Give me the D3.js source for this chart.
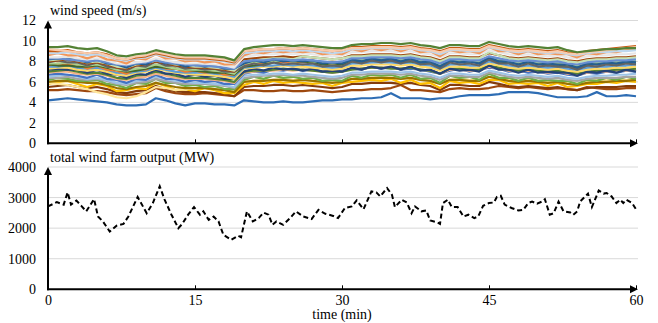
<!DOCTYPE html>
<html>
<head>
<meta charset="utf-8">
<script src="https://cdn.jsdelivr.net/npm/d3@7"></script>
<style>
  body { margin: 0; background: #fff; }
</style>
</head>
<body>
<div id="chart"></div>
<script>
const width = 658;
const height = 323;
const serif = '"Liberation Serif", serif';

// sampling minute of every wind speed point (one per minute)
const speedMinutes = d3.range(0, 61);

// one row per turbine, m/s
const turbineSpeeds = [
  [4.2,4.3,4.4,4.3,4.2,4.1,4.0,3.8,3.7,3.7,3.8, 4.4,4.2,3.9,3.7,3.9,3.9,3.8,3.8,3.7,4.2, 4.1,4.0,4.0,4.1,4.0,4.0,4.1,4.2,4.2,4.3, 4.3,4.4,4.4,4.5,4.9,4.4,4.4,4.4,4.3,4.4, 4.4,4.6,4.7,4.7,4.7,4.8,5.0,5.0,5.0,4.9, 4.7,4.5,4.5,4.5,4.6,5.0,4.6,4.6,4.7,4.6],
  [5.2,5.2,5.3,5.2,5.1,5.1,5.0,4.8,4.7,4.8,4.9, 5.4,5.1,4.9,4.8,4.8,4.9,4.8,4.7,4.6,5.2, 5.2,5.1,5.1,5.2,5.1,5.1,5.2,5.1,5.0,5.1, 5.2,5.2,5.3,5.3,5.4,5.7,5.2,5.2,5.1,5.0, 5.3,5.4,5.3,5.3,5.4,5.6,5.5,5.4,5.5,5.4, 5.3,5.4,5.3,5.2,5.5,5.4,5.3,5.3,5.4,5.4],
  [5.5,5.6,5.7,5.5,5.4,5.5,5.3,5.0,4.9,5.1,5.2, 5.6,5.3,5.1,5.0,5.0,5.0,4.9,4.8,4.6,5.5, 5.6,5.6,5.7,5.7,5.6,5.7,5.6,5.5,5.4,5.5, 5.8,5.8,5.9,5.9,5.9,5.8,5.9,5.7,5.6,5.2, 5.7,5.7,5.6,5.6,6.0,5.8,5.6,5.5,5.6,5.5, 5.4,5.5,5.3,5.2,5.4,5.5,5.5,5.5,5.6,5.6],
  [5.8,6.0,6.1,5.8,5.5,5.8,5.6,5.1,5.2,5.4,5.3, 5.9,5.6,5.2,5.3,5.1,5.4,5.2,4.9,4.9,5.7, 6.0,5.8,6.1,5.9,6.0,5.9,5.8,5.9,5.6,5.9, 6.0,6.1,6.2,6.1,6.3,5.9,6.2,5.8,5.9,5.4, 6.1,5.9,6.0,5.8,6.2,6.2,5.8,5.9,5.8,5.9, 5.6,5.9,5.5,5.6,5.8,5.8,6.0,5.9,6.1,6.0],
  [5.9,5.8,5.7,5.5,5.3,5.0,4.8,4.5,4.4,4.6,5.0, 5.5,5.4,5.2,5.3,5.4,5.5,5.3,5.2,5.1,6.0, 6.1,6.2,6.2,6.3,6.2,6.2,6.1,6.0,6.0,6.1, 6.3,6.4,6.4,6.5,6.4,6.3,6.4,6.2,6.1,5.9, 6.2,6.3,6.2,6.1,6.5,6.4,6.2,6.1,6.2,6.1, 6.0,6.1,5.9,5.8,6.0,6.2,6.2,6.1,6.2,6.3],
  [6.0,6.1,6.1,6.0,5.9,5.9,5.7,5.4,5.3,5.5,5.6, 5.9,5.7,5.5,5.4,5.4,5.4,5.3,5.2,5.0,6.0, 6.1,6.1,6.2,6.2,6.1,6.2,6.1,6.0,5.9,6.0, 6.3,6.3,6.4,6.4,6.4,6.3,6.4,6.2,6.1,5.8, 6.2,6.2,6.1,6.1,6.5,6.3,6.1,6.0,6.1,6.0, 5.9,6.0,5.8,5.7,5.9,6.0,6.0,6.1,6.1,6.2],
  [6.2,6.4,6.3,6.1,6.1,6.2,5.8,5.7,5.4,5.9,5.8, 6.3,5.9,5.9,5.6,5.7,5.5,5.6,5.3,5.3,6.2, 6.5,6.3,6.6,6.4,6.5,6.3,6.4,6.1,6.2,6.1, 6.6,6.4,6.7,6.6,6.7,6.4,6.7,6.3,6.4,5.9, 6.6,6.4,6.5,6.2,6.8,6.4,6.4,6.1,6.4,6.1, 6.2,6.1,6.1,5.8,6.2,6.1,6.4,6.2,6.5,6.3],
  [6.4,6.4,6.5,6.3,6.2,6.3,6.1,5.8,5.7,5.9,6.0, 6.3,6.1,5.9,5.8,5.8,5.8,5.7,5.6,5.4,6.4, 6.5,6.6,6.6,6.7,6.6,6.6,6.5,6.4,6.3,6.4, 6.7,6.7,6.8,6.8,6.8,6.7,6.8,6.6,6.5,6.2, 6.6,6.6,6.5,6.5,6.9,6.7,6.5,6.4,6.5,6.4, 6.3,6.4,6.2,6.1,6.3,6.4,6.4,6.4,6.5,6.5],
  [6.5,6.6,6.7,6.5,6.3,6.4,6.2,5.9,5.8,6.1,6.2, 6.5,6.3,6.1,6.0,5.9,5.9,5.8,5.7,5.5,6.6, 6.7,6.7,6.8,6.8,6.7,6.8,6.7,6.6,6.5,6.6, 6.9,6.9,7.0,7.0,7.0,6.9,7.0,6.8,6.7,6.4, 6.8,6.8,6.7,6.7,7.1,6.9,6.7,6.6,6.7,6.6, 6.5,6.6,6.4,6.3,6.5,6.6,6.6,6.7,6.7,6.8],
  [6.7,6.8,6.7,6.6,6.4,6.7,6.3,6.2,5.9,6.3,6.2, 6.7,6.3,6.3,6.0,6.2,6.0,6.1,5.8,5.8,6.8, 7.0,6.9,7.2,7.1,7.3,7.1,7.2,7.0,6.9,7.1, 7.3,7.2,7.5,7.3,7.5,7.2,7.3,7.2,7.0,6.8, 7.1,7.3,7.0,7.2,7.4,7.3,7.0,7.1,6.9,7.0, 6.8,6.9,6.7,6.6,6.9,6.8,7.0,6.9,7.1,7.0],
  [6.9,7.0,7.0,6.8,6.7,6.8,6.6,6.3,6.2,6.4,6.5, 6.8,6.6,6.4,6.3,6.3,6.3,6.2,6.1,5.9,6.9, 7.0,7.1,7.1,7.2,7.1,7.2,7.1,7.0,6.9,7.0, 7.3,7.3,7.4,7.4,7.4,7.3,7.4,7.2,7.1,6.8, 7.2,7.2,7.1,7.1,7.5,7.3,7.1,7.0,7.1,7.0, 6.9,7.0,6.8,6.7,6.9,7.0,7.0,7.1,7.1,7.2],
  [7.0,7.1,7.2,7.0,6.8,6.9,6.7,6.4,6.3,6.6,6.7, 7.0,6.8,6.6,6.4,6.4,6.4,6.3,6.2,6.0,7.0, 7.1,7.1,7.2,7.3,7.2,7.2,7.1,7.0,6.9,7.0, 7.2,7.3,7.4,7.4,7.3,7.3,7.4,7.2,7.1,6.8, 7.3,7.3,7.2,7.2,7.6,7.4,7.2,7.1,7.2,7.1, 7.0,7.1,6.9,6.8,7.0,7.1,7.1,7.2,7.2,7.3],
  [7.2,7.3,7.2,7.2,6.9,7.2,6.8,6.7,6.4,6.8,6.7, 7.2,6.8,6.8,6.5,6.7,6.5,6.6,6.3,6.3,7.0, 7.3,7.1,7.4,7.2,7.3,7.1,7.3,7.0,7.1,7.0, 7.4,7.2,7.5,7.3,7.5,7.2,7.5,7.1,7.2,6.8, 7.3,7.1,7.2,7.0,7.6,7.2,7.2,6.9,7.2,6.9, 7.0,6.9,6.9,6.6,7.0,6.9,7.1,6.9,7.2,7.0],
  [7.3,7.4,7.4,7.2,7.1,7.2,7.0,6.7,6.6,6.9,7.0, 7.3,7.1,6.9,6.8,6.7,6.7,6.6,6.5,6.3,7.3, 7.4,7.5,7.5,7.6,7.5,7.5,7.4,7.3,7.2,7.3, 7.6,7.6,7.7,7.7,7.7,7.6,7.7,7.5,7.4,7.1, 7.5,7.5,7.4,7.4,7.8,7.6,7.4,7.3,7.4,7.3, 7.2,7.3,7.1,7.0,7.2,7.3,7.3,7.4,7.4,7.5],
  [7.5,7.5,7.6,7.4,7.3,7.4,7.2,6.9,6.8,7.0,7.1, 7.4,7.2,7.0,6.9,6.9,6.9,6.8,6.7,6.5,7.4, 7.5,7.6,7.6,7.7,7.6,7.7,7.6,7.5,7.4,7.5, 7.8,7.8,7.9,7.9,7.9,7.8,7.9,7.7,7.6,7.3, 7.7,7.7,7.6,7.6,8.0,7.8,7.6,7.5,7.6,7.5, 7.4,7.5,7.3,7.2,7.4,7.5,7.5,7.6,7.6,7.7],
  [7.6,7.8,7.7,7.7,7.3,7.6,7.2,7.1,6.8,7.3,7.2, 7.7,7.3,7.3,7.0,7.1,6.9,7.0,6.7,6.7,7.6, 7.9,7.8,8.0,7.9,8.0,7.9,8.0,7.7,7.8,7.7, 8.2,8.0,8.3,8.1,8.3,8.0,8.3,7.9,8.0,7.5, 8.1,7.9,8.0,7.8,8.4,8.0,8.0,7.7,8.0,7.7, 7.8,7.7,7.7,7.4,7.8,7.7,7.9,7.8,8.0,7.9],
  [7.7,7.6,7.6,7.5,7.5,7.6,7.4,7.2,7.0,7.1,7.3, 7.5,7.4,7.3,7.2,7.1,7.0,6.9,6.9,6.7,7.5, 7.6,7.7,7.9,8.1,8.0,8.0,7.9,7.7,7.6,7.7, 8.0,8.0,8.1,8.1,8.1,8.0,8.0,7.9,7.8,7.6, 8.0,8.1,8.0,7.9,8.2,8.0,7.9,7.8,7.9,7.8, 7.6,7.7,7.5,7.4,7.6,7.8,7.8,7.8,7.9,7.9],
  [7.8,7.8,7.9,7.7,7.6,7.7,7.5,7.2,7.1,7.3,7.4, 7.7,7.5,7.3,7.2,7.2,7.2,7.1,7.0,6.8,7.8, 7.9,8.0,8.0,8.1,8.0,8.1,8.0,7.9,7.8,7.9, 8.2,8.2,8.3,8.3,8.3,8.2,8.3,8.1,8.0,7.7, 8.1,8.1,8.0,8.0,8.4,8.2,8.0,7.9,8.0,7.9, 7.8,7.9,7.7,7.6,7.8,7.9,7.9,8.0,8.0,8.1],
  [7.9,8.1,7.9,7.9,7.6,7.9,7.5,7.4,7.1,7.6,7.5, 8.0,7.6,7.6,7.3,7.4,7.2,7.3,7.0,7.0,7.5, 7.8,7.6,7.9,7.7,7.8,7.7,7.8,7.5,7.6,7.5, 8.0,7.8,8.1,7.9,8.1,7.8,8.1,7.7,7.8,7.3, 7.9,7.7,7.8,7.6,8.2,7.8,7.8,7.5,7.8,7.5, 7.6,7.5,7.5,7.2,7.6,7.5,7.7,7.6,7.8,7.7],
  [8.0,8.1,8.2,8.0,7.8,7.9,7.7,7.4,7.3,7.6,7.7, 8.0,7.8,7.6,7.5,7.4,7.4,7.3,7.2,7.0,8.2, 8.3,8.4,8.4,8.5,8.4,8.5,8.4,8.3,8.2,8.3, 8.6,8.6,8.7,8.7,8.7,8.6,8.7,8.5,8.4,8.1, 8.5,8.5,8.4,8.4,8.8,8.6,8.4,8.3,8.4,8.3, 8.2,8.3,8.1,8.0,8.2,8.3,8.3,8.4,8.4,8.5],
  [8.1,8.2,8.3,8.1,7.9,8.0,7.8,7.5,7.4,7.7,7.8, 8.1,7.9,7.7,7.6,7.5,7.5,7.4,7.3,7.1,8.0, 8.1,8.2,8.3,8.3,8.2,8.5,8.4,8.3,8.2,8.3, 8.5,8.5,8.6,8.6,8.6,8.5,8.6,8.4,8.3,8.0, 8.4,8.4,8.3,8.3,8.9,8.6,8.3,8.2,8.3,8.2, 8.1,8.2,8.0,7.9,8.1,8.2,8.2,8.3,8.3,8.4],
  [8.2,8.3,8.2,8.2,7.9,8.2,7.8,7.7,7.4,7.8,7.7, 8.2,7.8,7.8,7.5,7.7,7.5,7.6,7.3,7.3,7.8, 8.1,7.9,8.2,8.0,8.1,8.0,8.1,7.8,7.9,7.8, 8.2,8.0,8.3,8.1,8.3,8.0,8.3,7.9,8.0,7.5, 8.1,7.9,8.0,7.8,8.4,8.0,8.0,7.7,8.0,7.7, 7.8,7.7,7.7,7.4,7.8,7.7,7.9,7.8,8.0,7.9],
  [8.3,8.3,8.2,8.1,8.0,8.1,7.9,7.7,7.6,7.8,7.9, 8.1,7.9,7.8,7.7,7.6,7.6,7.5,7.4,7.3,8.0, 8.1,8.1,8.2,8.2,8.1,8.2,8.1,8.0,7.9,8.0, 8.3,8.3,8.4,8.4,8.4,8.3,8.4,8.2,8.1,7.8, 8.2,8.2,8.1,8.1,8.5,8.3,8.1,8.0,8.1,8.0, 7.9,8.0,7.8,7.7,7.9,8.0,8.0,8.1,8.1,8.2],
  [8.4,8.4,8.5,8.3,8.2,8.3,8.1,7.8,7.7,7.9,8.0, 8.3,8.1,7.9,7.8,7.8,7.8,7.7,7.6,7.4,8.5, 8.6,8.7,8.7,8.8,8.7,8.8,8.7,8.6,8.5,8.6, 8.9,8.9,9.0,9.0,9.0,8.9,9.0,8.8,8.7,8.4, 8.8,8.8,8.7,8.7,9.1,8.9,8.7,8.6,8.7,8.6, 8.5,8.6,8.4,8.3,8.5,8.6,8.6,8.7,8.7,8.8],
  [8.6,8.8,8.6,8.6,8.3,8.6,8.2,8.1,7.8,8.3,8.2, 8.7,8.3,8.3,8.0,8.1,7.9,8.0,7.7,7.7,8.6, 8.9,8.8,9.0,8.9,9.0,8.9,9.0,8.7,8.8,8.7, 9.2,9.0,9.3,9.1,9.3,9.0,9.3,8.9,9.0,8.5, 9.1,8.9,9.0,8.8,9.4,9.0,9.0,8.7,9.0,8.7, 8.8,8.7,8.7,8.4,8.8,8.7,8.9,8.9,9.1,9.2],
  [8.8,8.8,8.9,8.7,8.6,8.7,8.5,8.2,8.1,8.3,8.4, 8.7,8.5,8.3,8.2,8.2,8.2,8.1,8.0,7.8,8.8, 8.9,9.0,9.0,9.1,9.0,9.1,9.0,8.9,8.8,8.9, 9.2,9.2,9.3,9.3,9.3,9.2,9.3,9.1,9.0,8.7, 9.1,9.1,9.0,9.0,9.4,9.2,9.0,8.9,9.0,8.9, 8.8,8.9,8.7,8.6,8.8,8.9,8.9,9.0,9.0,9.1],
  [9.0,9.0,9.1,8.9,8.8,8.9,8.7,8.3,8.2,8.4,8.5, 8.8,8.6,8.4,8.3,8.3,8.3,8.2,8.1,7.9,9.0, 9.1,9.2,9.2,9.3,9.2,9.3,9.2,9.1,9.0,9.1, 9.4,9.4,9.5,9.5,9.5,9.4,9.5,9.3,9.2,9.0, 9.3,9.3,9.2,9.2,9.6,9.4,9.2,9.1,9.2,9.1, 9.0,9.1,8.9,8.8,9.0,9.1,9.2,9.3,9.4,9.5],
  [9.2,9.1,9.0,8.9,8.8,8.9,8.6,8.3,8.2,8.5,8.6, 8.9,8.7,8.5,8.4,8.4,8.4,8.3,8.2,8.0,9.0, 9.1,9.2,9.2,9.3,9.2,9.3,9.2,9.1,9.0,9.1, 9.3,9.3,9.4,9.4,9.4,9.3,9.4,9.2,9.1,8.9, 9.2,9.2,9.1,9.1,9.5,9.3,9.1,9.0,9.1,9.0, 8.9,9.0,8.8,8.7,8.9,9.0,9.1,9.2,9.3,9.4],
  [9.4,9.4,9.5,9.3,9.2,9.3,9.0,8.6,8.5,8.7,8.8, 9.1,8.9,8.7,8.6,8.6,8.6,8.5,8.4,8.1,9.2, 9.4,9.5,9.6,9.6,9.5,9.6,9.5,9.4,9.3,9.3, 9.6,9.7,9.7,9.8,9.8,9.7,9.8,9.6,9.5,9.3, 9.6,9.6,9.5,9.5,9.9,9.7,9.5,9.4,9.5,9.4, 9.3,9.4,9.1,8.9,9.0,9.1,9.2,9.2,9.3,9.3]
];

const turbineColors = [
  "#2e6db4", "#9e480e", "#843c0c", "#ffc000", "#ffe699",
  "#997300", "#70ad47", "#a5a5a5", "#9dc3e6", "#4472c4",
  "#f4b183", "#548235", "#264478", "#ffd966", "#5b9bd5",
  "#ed7d31", "#43682b", "#a9d18e", "#636363", "#9e480e",
  "#c5e0b4", "#255e91", "#698ed0", "#e7e6e6", "#f1975a",
  "#bdd7ee", "#c55a11", "#f8cbad", "#548235"
];

// total output, read at its turning points
const outMinutes = [0,0.9,1.6,2.0,2.35,2.9,3.4,3.9,4.7,5.1,5.6,6.3,7.0,7.7,8.2,9.15,10.07,10.7,11.4,11.9,
  12.6,13.3,13.7,14.3,14.9,15.5,15.85,16.4,16.9,17.4,17.9,18.7,19.4,19.7,20.3,20.9,21.5,22.0,22.5,22.9,
  23.3,24.0,24.7,25.3,26.05,26.9,27.6,28.3,29.1,29.6,30.3,31.0,31.5,32.2,33.0,33.5,33.9,34.6,35.1,35.4,
  36.1,36.6,37.1,37.45,38.1,38.6,39.0,39.7,40.0,40.3,40.8,41.2,41.8,42.4,42.9,43.5,43.9,44.4,45.0,45.5,
  45.8,46.2,46.6,47.3,48.0,48.5,49.0,49.4,49.9,50.4,50.7,51.2,51.6,52.1,52.6,53.3,53.6,54.0,54.3,55.1,
  55.5,56.2,56.7,57.0,57.5,58.0,58.4,58.7,59.0,59.6,60.0];
const outMW = [2710,2850,2770,3170,2770,2900,2730,2550,2950,2380,2220,1890,2080,2140,2380,3020,2490,2820,3370,2930,
  2440,2000,2140,2440,2690,2440,2550,2270,2380,2220,1780,1620,1750,1700,2550,2220,2330,2510,2440,2110,
  2220,2110,2330,2550,2380,2300,2600,2470,2400,2330,2660,2710,2910,2620,3200,3170,3040,3310,3090,2690,
  2930,2840,2490,2710,2550,2580,2250,2190,2140,2820,2930,2690,2690,2380,2440,2330,2380,2730,2820,2840,
  3020,3060,2770,2660,2580,2600,2820,2870,2800,2870,2950,2440,2490,2870,2550,2510,2440,2550,2870,3130,
  2690,3230,3130,3150,3040,2820,2930,2820,2930,2820,2620];

const speedTicks = [0, 2, 4, 6, 8, 10, 12];
const outTicks = [0, 1000, 2000, 3000, 4000];
const timeTicks = [0, 15, 30, 45, 60];

const svg = d3.select("#chart")
    .append("svg")
    .attr("width", width)
    .attr("height", height)
    .style("font-family", serif)
    .style("font-size", "14px");

const x = d3.scaleLinear().domain([0, 60]).range([48, 636]);
const ySpeed = d3.scaleLinear().domain([0, 12]).range([143.3, 20.5]);
const yOut = d3.scaleLinear().domain([0, 4000]).range([289.3, 167]);

function styleText(sel) {
    sel.attr("font-family", null).attr("font-size", null).attr("fill", "#000")
        .style("font-family", serif).style("font-size", "14px");
}

function gridAndLabels(y, ticks) {
    svg.append("g")
        .selectAll("line")
        .data(ticks.slice(1))
        .join("line")
        .attr("x1", x(0))
        .attr("x2", x(60) + 2)
        .attr("y1", d => y(d))
        .attr("y2", d => y(d))
        .attr("stroke", "#d9d9d9")
        .attr("stroke-width", 1);

    const ax = svg.append("g")
        .attr("transform", `translate(${x(0)},0)`)
        .call(d3.axisLeft(y).tickValues(ticks).tickFormat(d3.format("d")).tickSize(0).tickPadding(12));
    ax.select(".domain").remove();
    ax.attr("font-family", null).attr("font-size", null);
    styleText(ax.selectAll("text"));
}

function arrowAxes(y, top) {
    const y0 = y(0);
    const g = svg.append("g");
    // vertical axis
    g.append("line")
        .attr("x1", x(0)).attr("x2", x(0))
        .attr("y1", y0 + 1).attr("y2", top + 6)
        .attr("stroke", "#000").attr("stroke-width", 2);
    g.append("path")
        .attr("d", `M${x(0)},${top} L${x(0) - 4},${top + 8} L${x(0) + 4},${top + 8} Z`)
        .attr("fill", "#000");
    // horizontal axis
    const right = x(60) + 2;
    g.append("line")
        .attr("x1", x(0) - 1).attr("x2", right - 6)
        .attr("y1", y0).attr("y2", y0)
        .attr("stroke", "#000").attr("stroke-width", 2);
    g.append("path")
        .attr("d", `M${right},${y0} L${right - 8},${y0 - 4} L${right - 8},${y0 + 4} Z`)
        .attr("fill", "#000");
}

// ---- top panel: wind speeds
gridAndLabels(ySpeed, speedTicks);

const speedLine = d3.line()
    .x((d, i) => x(speedMinutes[i]))
    .y(d => ySpeed(d));

svg.append("g")
    .selectAll("path")
    .data(turbineSpeeds)
    .join("path")
    .attr("d", speedLine)
    .attr("fill", "none")
    .attr("stroke", (d, i) => turbineColors[i % turbineColors.length])
    .attr("stroke-width", 2.2)
    .attr("stroke-linejoin", "round");

const topTicks = svg.append("g")
    .attr("transform", `translate(0,${ySpeed(0)})`)
    .call(d3.axisBottom(x).tickValues(timeTicks).tickSize(-4).tickFormat(""));
topTicks.select(".domain").remove();
topTicks.selectAll("line").attr("stroke", "#000").attr("stroke-width", 1);

arrowAxes(ySpeed, ySpeed(12));

styleText(svg.append("text").attr("x", 50).attr("y", 15).text("wind speed (m/s)"));

// ---- bottom panel: farm output
gridAndLabels(yOut, outTicks);

const outLine = d3.line()
    .x((d, i) => x(outMinutes[i]))
    .y(d => yOut(d));

svg.append("path")
    .datum(outMW)
    .attr("d", outLine)
    .attr("fill", "none")
    .attr("stroke", "#000")
    .attr("stroke-width", 2)
    .attr("stroke-dasharray", "5,3");

const bottomAxis = svg.append("g")
    .attr("transform", `translate(0,${yOut(0)})`)
    .call(d3.axisBottom(x).tickValues(timeTicks).tickSizeInner(-4).tickSizeOuter(0).tickPadding(6));
bottomAxis.select(".domain").remove();
bottomAxis.selectAll("line").attr("stroke", "#000").attr("stroke-width", 1);
bottomAxis.attr("font-family", null).attr("font-size", null);
styleText(bottomAxis.selectAll("text"));

arrowAxes(yOut, yOut(4000));

styleText(svg.append("text").attr("x", 50).attr("y", 162).text("total wind farm output (MW)"));
styleText(svg.append("text").attr("x", x(30)).attr("y", 319).attr("text-anchor", "middle").text("time (min)"));
</script>
</body>
</html>
